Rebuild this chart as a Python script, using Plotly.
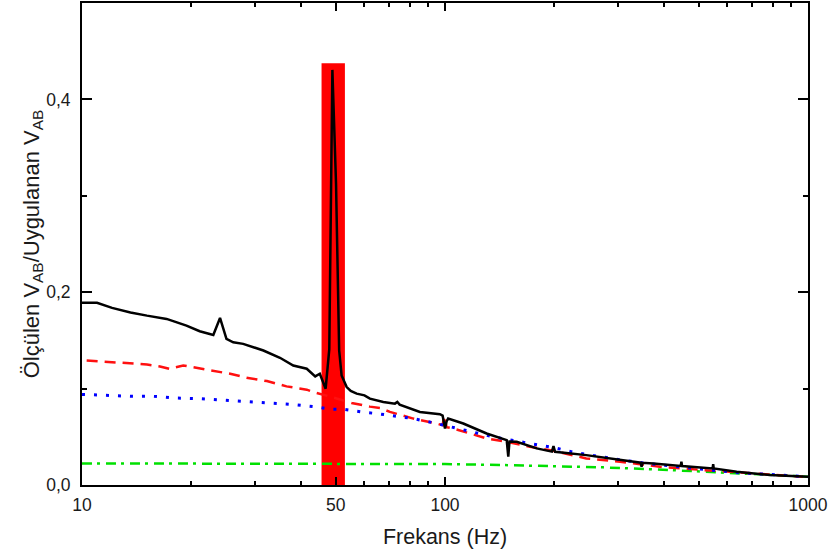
import plotly.graph_objects as go

# Measured response (ratio of measured to applied V_AB) versus frequency
black_f = [10, 11.0, 12.1, 13.6, 15.1, 17.1, 19.4, 21.1, 23.0, 24.0, 25.0, 26.1, 27.8,
           29.7, 31.6, 35.1, 38.2, 41.6, 43.9, 45.2, 46.9, 48.0, 48.95, 50.1, 51.1,
           51.9, 53.6, 55.0, 57.1, 60.0, 62.1, 67.6, 72.8, 73.9, 75.0, 85.3, 96.8,
           98.5, 100, 101, 102, 112.3, 130.2, 147.9, 149.4, 150.5, 157.6, 178.9,
           197, 199, 201, 245, 303.7, 346, 348, 350, 375, 446, 448, 450, 546, 548,
           550, 636, 785, 1000]
black_v = [0.189, 0.189, 0.1837, 0.179, 0.1757, 0.1723, 0.1654, 0.1595, 0.1557, 0.1733,
           0.1516, 0.148, 0.1464, 0.143, 0.1395, 0.132, 0.124, 0.1206, 0.1127, 0.1154,
           0.0999, 0.141, 0.4306, 0.312, 0.1395, 0.1137, 0.1016, 0.0975, 0.0948, 0.093,
           0.0896, 0.0861, 0.0844, 0.0861, 0.0834, 0.0758, 0.0734, 0.072, 0.0586, 0.066,
           0.0689, 0.0638, 0.0534, 0.0465, 0.0293, 0.045, 0.0448, 0.038, 0.0346, 0.0403,
           0.0344, 0.031, 0.0258, 0.0232, 0.0189, 0.0230, 0.0222, 0.0198, 0.0241, 0.0196,
           0.0172, 0.0217, 0.0171, 0.0137, 0.0103, 0.0086]

red_f = [10.3, 12.2, 15.1, 16.4, 17.4, 19.0, 20.0, 22.05, 25.6, 28.4, 32.3, 36.6, 41.6,
         43.4, 50, 55.3, 62.1, 66.2, 70.5, 81.8, 94.8, 98.5, 99.5, 101, 105.5, 117.3,
         130.2, 148, 171.4, 198.7, 245, 303.7, 391, 515, 706, 968]
red_v = [0.1292, 0.1274, 0.125, 0.123, 0.1206, 0.124, 0.1223, 0.1196, 0.1154, 0.1113,
         0.1078, 0.1023, 0.0989, 0.0964, 0.09, 0.0851, 0.0813, 0.0799, 0.0758, 0.0689,
         0.0638, 0.062, 0.072, 0.060, 0.0586, 0.0534, 0.0483, 0.0448, 0.0396, 0.0355,
         0.0276, 0.0241, 0.0189, 0.0155, 0.0121, 0.0086]

blue_f = [10, 13.56, 15.7, 18.2, 21.1, 24.5, 28.4, 32.95, 38.2, 44.3, 48.2, 52.5, 55.9,
          60.9, 64.8, 70.5, 81.8, 94.8, 117.3, 135.9, 167.7, 198.7, 230, 267, 309, 359,
          416, 515, 648, 785, 1000]
blue_v = [0.094, 0.092, 0.092, 0.0902, 0.0896, 0.0879, 0.0868, 0.0851, 0.0834, 0.0809,
          0.0786, 0.0786, 0.0768, 0.0751, 0.0741, 0.0723, 0.0689, 0.0638, 0.0551, 0.0499,
          0.0437, 0.039, 0.0334, 0.0293, 0.0258, 0.0224, 0.0196, 0.0162, 0.0127, 0.011,
          0.0086]

green_f = [10, 50, 100, 145, 273, 416, 648, 1000]
green_v = [0.0224, 0.0224, 0.0217, 0.0207, 0.0183, 0.0155, 0.0121, 0.0086]

# Highlighted band around the 50 Hz mains frequency
band_f = [45.7, 53.0]
band_top = 0.4375

x_major = [10, 50, 100, 1000]
x_major_text = ["10", "50", "100", "1000"]
x_minor = [20, 30, 40, 60, 70, 80, 90, 200, 300, 400, 500, 600, 700, 800, 900]
y_major = [0.0, 0.2, 0.4]
y_major_text = ["0,0", "0,2", "0,4"]
y_minor = [0.1, 0.3, 0.5]

FONT = "Arial, Liberation Sans, sans-serif"

fig = go.Figure()

fig.add_trace(go.Scatter(
    x=[band_f[0], band_f[0], band_f[1], band_f[1], band_f[0]],
    y=[0, band_top, band_top, 0, 0],
    mode="lines", fill="toself", fillcolor="#FF0000",
    line=dict(width=0, color="#FF0000"), hoverinfo="skip", showlegend=False))

fig.add_trace(go.Scatter(x=green_f, y=green_v, mode="lines",
                         line=dict(color="#00E000", width=2.5, dash="10px,5px,3px,6px"),
                         showlegend=False))
fig.add_trace(go.Scatter(x=red_f, y=red_v, mode="lines",
                         line=dict(color="#FF1010", width=2.5, dash="11px,7px"),
                         showlegend=False))
fig.add_trace(go.Scatter(x=blue_f, y=blue_v, mode="lines",
                         line=dict(color="#0000FF", width=3, dash="3px,9px"),
                         showlegend=False))
fig.add_trace(go.Scatter(x=black_f, y=black_v, mode="lines",
                         line=dict(color="#000000", width=2.5),
                         showlegend=False))

fig.update_layout(
    width=832, height=558,
    margin=dict(l=82, r=24, t=1, b=73),
    paper_bgcolor="white", plot_bgcolor="white",
    font=dict(family=FONT, color="#1a1a1a", size=18),
    xaxis=dict(
        type="log", range=[1, 3],
        showline=True, linecolor="black", linewidth=2, mirror="ticks",
        showgrid=False, zeroline=False,
        ticks="inside", ticklen=8, tickwidth=1.5, tickcolor="black",
        tickmode="array", tickvals=x_major, ticktext=x_major_text,
        tickfont=dict(size=17.5, family=FONT), ticklabelstandoff=3,
        minor=dict(tickvals=x_minor, ticks="inside", ticklen=4, tickwidth=1.5,
                   tickcolor="black", showgrid=False),
        title=dict(text="Frekans (Hz)", font=dict(size=21.5, family=FONT), standoff=15),
    ),
    yaxis=dict(
        range=[0, 0.5],
        showline=True, linecolor="black", linewidth=2, mirror="ticks",
        showgrid=False, zeroline=False,
        ticks="inside", ticklen=10, tickwidth=1.5, tickcolor="black",
        tickmode="array", tickvals=y_major, ticktext=y_major_text,
        tickfont=dict(size=17.5, family=FONT), ticklabelstandoff=6,
        minor=dict(tickvals=y_minor, ticks="inside", ticklen=5, tickwidth=1.5,
                   tickcolor="black", showgrid=False),
        title=dict(text="Ölçülen V<sub>AB</sub>/Uygulanan V<sub>AB</sub>",
                   font=dict(size=22, family=FONT), standoff=0),
    ),
)

fig.write_html("out.html")
